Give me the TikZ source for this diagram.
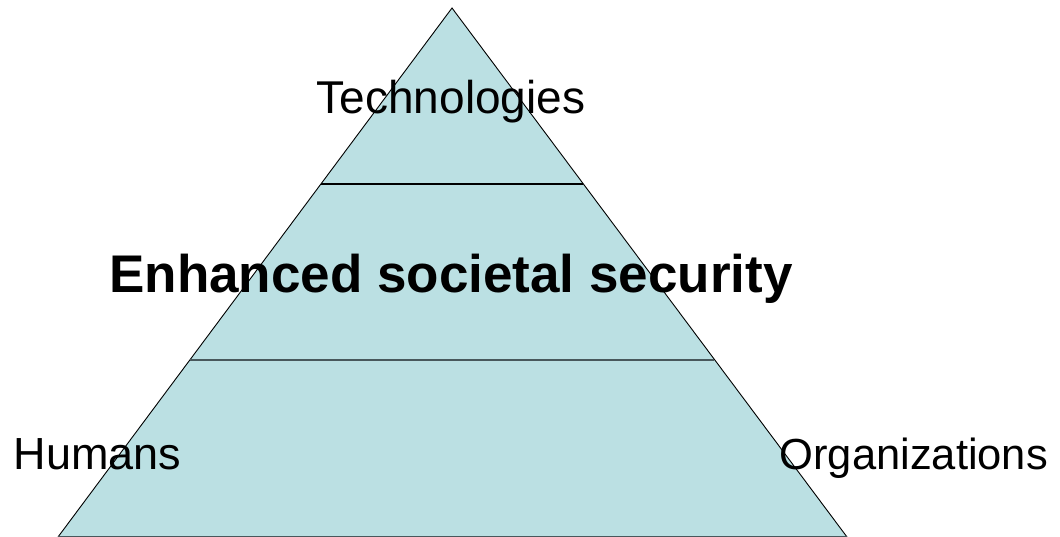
\documentclass[tikz,border=0pt]{standalone}
\usepackage{fontspec}
\setmainfont{Liberation Sans}
\definecolor{layerfill}{RGB}{187,224,227}
\definecolor{layerline}{RGB}{72,88,92}
\tikzset{
  label text/.style={anchor=base, font=\fontsize{45}{54}\selectfont},
  title text/.style={anchor=base, font=\fontsize{53}{62}\selectfont\bfseries},
}
\begin{document}
\begin{tikzpicture}[x=1pt, y=-1pt]
    \useasboundingbox (0,0) rectangle (1060,537);
    % corners of the pyramid
    \coordinate (apex) at (452,8);
    \coordinate (baseL) at (58,537);
    \coordinate (baseR) at (847,537);
    \coordinate (upL) at (321,184);
    \coordinate (upR) at (583,184);
    \coordinate (lowL) at (190,360);
    \coordinate (lowR) at (714,360);
    \fill[layerfill] (apex) -- (baseR) -- (baseL) -- cycle;
    \draw[black, line width=0.9pt] (baseL) -- (apex) -- (baseR);
    \draw[layerline, line width=1.5pt] (baseL) -- (baseR);
    \draw[black, line width=2pt] (upL) -- (upR);
    \draw[layerline, line width=2pt] (lowL) -- (lowR);
    % layer labels
    \node [label text, font=\fontsize{46}{55}\selectfont] (tech) at (451,114) {Technologies};
    \node [title text] (security) at (451,293) {Enhanced societal security};
    \node [label text, anchor=base west] (humans) at (10,469) {Humans};
    \node [label text, anchor=base west, font=\fontsize{43.5}{52}\selectfont] (orgs) at (776,469) {Organizations};
\end{tikzpicture}
\end{document}
